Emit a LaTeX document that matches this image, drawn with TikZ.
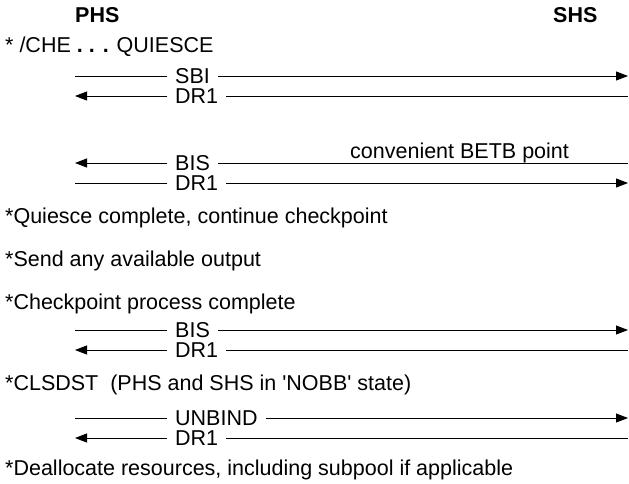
\documentclass[tikz,border=0pt]{standalone}
\usepackage{fontspec}
\newfontfamily\arialf{Liberation Sans}
\usetikzlibrary{arrows.meta}
\tikzset{
  txt/.style={anchor=base west, inner sep=0pt, font=\arialf\fontsize{21.5}{24}\selectfont},
  hdr/.style={anchor=base west, inner sep=0pt, font=\arialf\fontsize{21.5}{24}\selectfont\bfseries},
  msg/.style={anchor=west, inner xsep=8pt, inner ysep=0pt, font=\arialf\fontsize{21.5}{24}\selectfont},
  conn/.style={line width=0.9pt},
  tip/.style={conn, -{Triangle[length=12pt,width=9pt]}},
}
\begin{document}
\begin{tikzpicture}[x=1pt,y=-1pt]
\useasboundingbox (0,0) rectangle (629,483);
% headers
\node[hdr] (phs) at (75,22) {PHS};
\node[hdr] (shs) at (553,22) {SHS};
\node[txt] (t1) at (5,52) {* /CHE \textbf{. . .} QUIESCE};
% group 1
\coordinate (l1) at (75,76);  \coordinate (r1) at (628,76);
\node[msg] (m1) at (167,76) {SBI};
\draw[conn] (m1) -- (l1); \draw[tip] (m1) -- (r1);
\coordinate (l2) at (75,96);  \coordinate (r2) at (628,96);
\node[msg] (m2) at (167,96) {DR1};
\draw[tip] (m2) -- (l2); \draw[conn] (m2) -- (r2);
% group 2
\node[txt] (cb) at (350,158) {convenient BETB point};
\coordinate (l3) at (75,163);  \coordinate (r3) at (628,163);
\node[msg] (m3) at (167,163) {BIS};
\draw[tip] (m3) -- (l3); \draw[conn] (m3) -- (r3);
\coordinate (l4) at (75,183);  \coordinate (r4) at (628,183);
\node[msg] (m4) at (167,183) {DR1};
\draw[conn] (m4) -- (l4); \draw[tip] (m4) -- (r4);
\node[txt] (t2) at (5,223) {*Quiesce complete, continue checkpoint};
\node[txt] (t3) at (5,266) {*Send any available output};
\node[txt] (t4) at (5,309) {*Checkpoint process complete};
% group 3
\coordinate (l5) at (75,330);  \coordinate (r5) at (628,330);
\node[msg] (m5) at (167,330) {BIS};
\draw[conn] (m5) -- (l5); \draw[tip] (m5) -- (r5);
\coordinate (l6) at (75,350);  \coordinate (r6) at (628,350);
\node[msg] (m6) at (167,350) {DR1};
\draw[tip] (m6) -- (l6); \draw[conn] (m6) -- (r6);
\node[txt] (t5) at (5,390) {*CLSDST\ \ (PHS and SHS in 'NOBB' state)};
% group 4
\coordinate (l7) at (75,418);  \coordinate (r7) at (628,418);
\node[msg] (m7) at (167,418) {UNBIND};
\draw[conn] (m7) -- (l7); \draw[tip] (m7) -- (r7);
\coordinate (l8) at (75,438);  \coordinate (r8) at (628,438);
\node[msg] (m8) at (167,438) {DR1};
\draw[tip] (m8) -- (l8); \draw[conn] (m8) -- (r8);
\node[txt] (t6) at (5,475) {*Deallocate resources, including subpool if applicable};
\end{tikzpicture}
\end{document}
